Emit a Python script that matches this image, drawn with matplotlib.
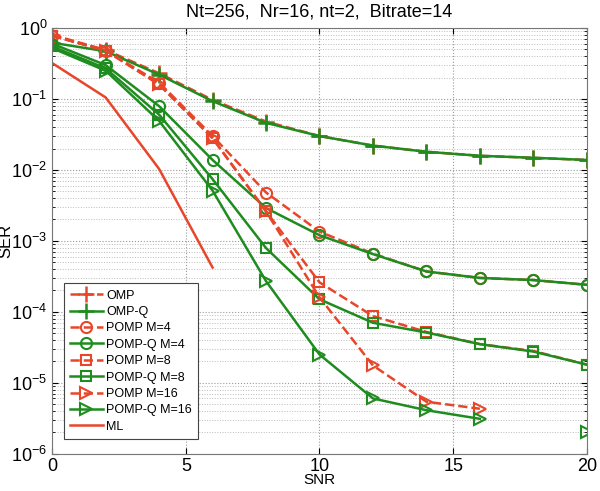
import matplotlib
matplotlib.use("Agg")
import matplotlib.pyplot as plt
import numpy as np

plt.rcParams["font.family"] = ["Liberation Sans", "DejaVu Sans"]
plt.rcParams["mathtext.fontset"] = "custom"
plt.rcParams["mathtext.rm"] = "Liberation Sans"
plt.rcParams["mathtext.it"] = "Liberation Sans"
plt.rcParams["mathtext.default"] = "regular"

RED = "#e8462a"
GREEN = "#1f8c1f"

snr = [0, 2, 4, 6, 8, 10, 12, 14, 16, 18, 20]
snr_short = [0, 2, 4, 6, 8, 10, 12, 14, 16]
snr_ml = [0, 2, 4, 6]

omp = [0.80, 0.49, 0.23, 0.097, 0.048, 0.030, 0.022, 0.018, 0.0158, 0.0148, 0.0138]
omp_q = [0.62, 0.47, 0.22, 0.093, 0.046, 0.030, 0.022, 0.018, 0.0158, 0.0148, 0.0138]
pomp_m4 = [0.78, 0.48, 0.17, 0.030, 0.0048, 0.00135, 0.00066, 0.00037, 0.00030, 0.00028, 0.00024]
pompq_m4 = [0.60, 0.30, 0.079, 0.0138, 0.0029, 0.0012, 0.00065, 0.00037, 0.00030, 0.00028, 0.00024]
pomp_m8 = [0.78, 0.48, 0.16, 0.028, 0.0026, 0.00026, 8.7e-5, 5.2e-5, 3.5e-5, 2.8e-5, 1.8e-5]
pompq_m8 = [0.55, 0.27, 0.060, 0.0074, 0.00079, 0.00015, 7.0e-5, 5.1e-5, 3.5e-5, 2.75e-5, 1.8e-5]
pomp_m16 = [0.78, 0.48, 0.16, 0.028, 0.0026, 0.00016, 1.75e-5, 5.4e-6, 4.3e-6]
pompq_m16 = [0.52, 0.25, 0.049, 0.0051, 0.00027, 2.5e-5, 6.0e-6, 4.1e-6, 3.1e-6, np.nan, 2.0e-6]
ml = [0.32, 0.105, 0.0103, 0.00042]

fig = plt.figure(figsize=(6.0, 4.91), dpi=100)
ax = fig.add_axes([0.087, 0.076, 0.891, 0.867])

ms = 8
lw = 1.8
ax.plot(snr, omp, color=RED, ls="--", lw=lw, marker="+", ms=12, mew=1.8, label="OMP")
ax.plot(snr, omp_q, color=GREEN, ls="-", lw=lw, marker="+", ms=12, mew=1.8, label="OMP-Q")
ax.plot(snr, pomp_m4, color=RED, ls="--", lw=lw, marker="o", ms=ms, mfc="none", mew=1.5, label="POMP M=4")
ax.plot(snr, pompq_m4, color=GREEN, ls="-", lw=lw, marker="o", ms=ms, mfc="none", mew=1.5, label="POMP-Q M=4")
ax.plot(snr, pomp_m8, color=RED, ls="--", lw=lw, marker="s", ms=ms - 1, mfc="none", mew=1.5, label="POMP M=8")
ax.plot(snr, pompq_m8, color=GREEN, ls="-", lw=lw, marker="s", ms=ms - 1, mfc="none", mew=1.5, label="POMP-Q M=8")
ax.plot(snr_short, pomp_m16, color=RED, ls="--", lw=lw, marker=">", ms=ms, mfc="none", mew=1.5, label="POMP M=16")
ax.plot(snr, pompq_m16, color=GREEN, ls="-", lw=lw, marker=">", ms=ms, mfc="none", mew=1.5, label="POMP-Q M=16")
ax.plot(snr_ml, ml, color=RED, ls="-", lw=lw, label="ML")

ax.set_yscale("log")
ax.set_xlim(0, 20)
ax.set_ylim(1e-6, 1)
ax.set_xticks([0, 5, 10, 15, 20])
ax.set_yticks([10.0 ** k for k in range(-6, 1)])
ax.tick_params(which="both", direction="in", labelsize=13, top=True, right=True)
ax.tick_params(which="major", length=4)
ax.tick_params(axis="x", pad=3)
ax.tick_params(which="minor", length=2)
ax.grid(True, which="major", ls=":", color="#999999", lw=0.8)
ax.grid(True, which="minor", axis="y", ls=":", color="#bbbbbb", lw=0.7)
for s in ax.spines.values():
    s.set_color("#777777")

ax.set_title("Nt=256,  Nr=16, nt=2,  Bitrate=14", fontsize=13, pad=8)
ax.set_xlabel("SNR", fontsize=11)
ax.xaxis.set_label_coords(0.5, -0.046)
ax.set_ylabel("SER", fontsize=12)
ax.yaxis.set_label_coords(-0.072, 0.5)

leg = ax.legend(loc="lower left", fontsize=9, handlelength=2.6, handletextpad=0.3,
                labelspacing=0.35, borderpad=0.5, fancybox=False, framealpha=1,
                edgecolor="#444444", bbox_to_anchor=(0.01, 0.02))
leg.get_frame().set_linewidth(0.8)

fig.savefig("out.png", dpi=100)
